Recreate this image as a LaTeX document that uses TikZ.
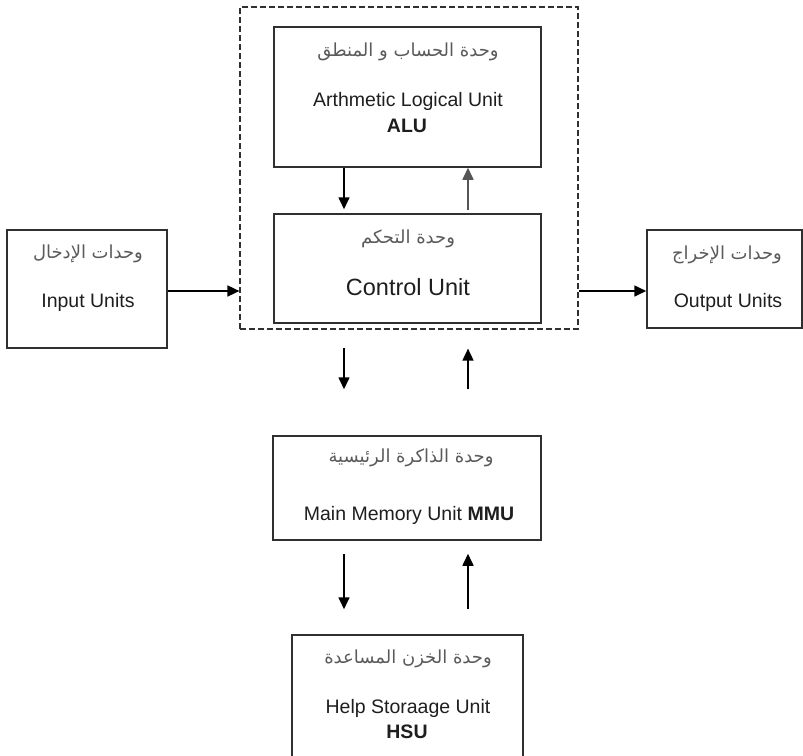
\documentclass[tikz,border=0pt]{standalone}
\usepackage{fontspec}
\setmainfont{Liberation Sans}
\newfontfamily\arabicfont[Script=Arabic]{DejaVu Sans}
\TeXXeTstate=1
\usetikzlibrary{arrows.meta}
\definecolor{boxline}{HTML}{303030}
\definecolor{artext}{HTML}{5A5A5A}
\definecolor{entext}{HTML}{1E1E1E}
\definecolor{upgray}{HTML}{555555}
\begin{document}
\begin{tikzpicture}[x=1pt,y=-1pt,
  unitbox/.style={draw=boxline, line width=1.5pt, inner sep=0pt},
  cpubox/.style={draw=boxline, line width=1.2pt, dash pattern=on 6pt off 3pt, inner sep=0pt},
  ar/.style={font=\arabicfont\fontsize{18}{20}\selectfont, text=artext, inner sep=0pt},
  en/.style={font=\fontsize{19.5}{23}\selectfont, text=entext, inner sep=0pt, anchor=base},
  enb/.style={font=\fontsize{19.5}{23}\selectfont\bfseries, text=entext, inner sep=0pt, anchor=base},
  enbig/.style={font=\fontsize{23.5}{27}\selectfont, text=entext, inner sep=0pt, anchor=base},
  arr/.style={line width=1.6pt, color=black, -{Triangle[length=12pt,width=11pt]}}]
\useasboundingbox (0,0) rectangle (803,755);
\coordinate (lx) at (344,0);
\coordinate (rx) at (468,0);
\coordinate (ay) at (0,291);
% boxes
\node[cpubox, minimum width=338pt, minimum height=322pt] (cpu) at (409,168) {};
\node[unitbox, minimum width=267pt, minimum height=140pt] (alu) at (407.5,97) {};
\node[unitbox, minimum width=267pt, minimum height=109pt] (cu) at (407.5,268.5) {};
\node[unitbox, minimum width=160pt, minimum height=118pt] (inp) at (87,289) {};
\node[unitbox, minimum width=155pt, minimum height=98pt] (outp) at (724.5,279) {};
\node[unitbox, minimum width=268pt, minimum height=104pt] (mmu) at (407,488) {};
\node[unitbox, minimum width=231pt, minimum height=150pt] (hsu) at (407.5,710) {};
% texts
\node[ar] (aluar) at (408,52) {\beginR وحدة الحساب و المنطق\endR};
\node[en] (aluen) at (408,106) {Arthmetic Logical Unit};
\node[enb] (alub) at (407,132) {ALU};
\node[ar] (cuar) at (408,239) {\beginR وحدة التحكم\endR};
\node[enbig] (cuen) at (408,295) {Control Unit};
\node[ar] (inar) at (88,254) {\beginR وحدات الإدخال\endR};
\node[en] (inen) at (88,307) {Input Units};
\node[ar] (outar) at (727,255) {\beginR وحدات الإخراج\endR};
\node[en] (outen) at (728,307) {Output Units};
\node[ar] (mmuar) at (411,458) {\beginR وحدة الذاكرة الرئيسية\endR};
\node[en] (mmuen) at (409,520) {Main Memory Unit \textbf{MMU}};
\node[ar] (hsuar) at (408,659) {\beginR وحدة الخزن المساعدة\endR};
\node[en] (hsuen) at (408,713) {Help Storaage Unit};
\node[enb] (hsub) at (407,738) {HSU};
% arrows
\draw[arr, shorten >=4pt] (alu.south -| lx) -- (cu.north -| lx);
\draw[arr, color=upgray, shorten <=3pt] (cu.north -| rx) -- (alu.south -| rx);
\draw[arr] (inp.east |- ay) -- (cpu.west |- ay);
\draw[arr] (cpu.east |- ay) -- (outp.west |- ay);
\draw[arr, shorten <=18pt, shorten >=46pt] (cpu.south -| lx) -- (mmu.north -| lx);
\draw[arr, shorten <=46pt, shorten >=19pt] (mmu.north -| rx) -- (cpu.south -| rx);
\draw[arr, shorten <=13pt, shorten >=25pt] (mmu.south -| lx) -- (hsu.north -| lx);
\draw[arr, shorten <=25pt, shorten >=13pt] (hsu.north -| rx) -- (mmu.south -| rx);
\end{tikzpicture}
\end{document}
